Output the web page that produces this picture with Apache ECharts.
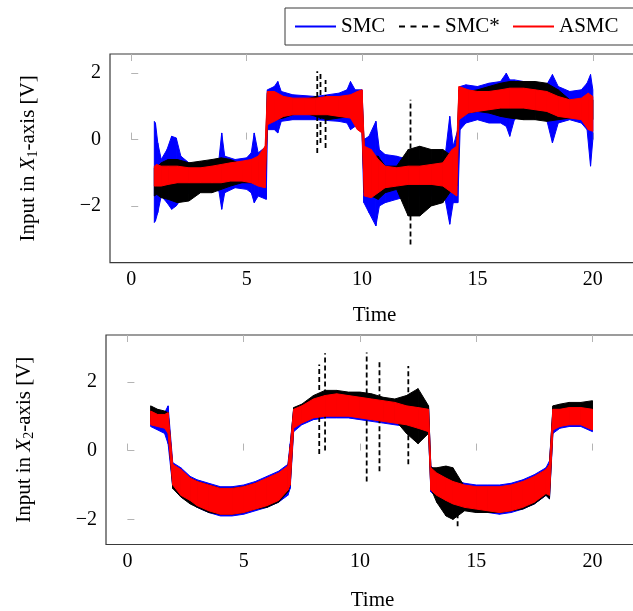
<!DOCTYPE html>
<html>
<head>
<meta charset="utf-8">
<script src="https://cdn.jsdelivr.net/npm/echarts@6/dist/echarts.min.js"></script>
<style>
html,body{margin:0;padding:0;background:#fff;}
#chart{width:633px;height:611px;}
</style>
</head>
<body>
<div id="chart"></div>
<script>
// ---------- data ----------
const seriesNames = ['SMC', 'SMC*', 'ASMC'];
const xTicks = [0, 5, 10, 15, 20];
const yTicks = [-2, 0, 2];

// Plot 1: input in X1-axis (noise envelopes: lower / upper)
const smc1T  = [1.0,1.05,1.15,1.3,1.55, 1.75,1.95,2.15,2.5,3.0, 3.5,3.8,3.92,4.05,4.5, 5.0,5.2,5.33,5.5,5.85, 5.9,6.2,6.35,6.5,7.0, 8.0,9.0,9.35,9.5,9.7, 10.0,10.08,10.3,10.6,10.75, 11.0,11.5,12.0,13.0,13.6, 13.8,13.95,14.15,14.25,14.5, 15.0,15.5,16.0,16.25,16.4, 16.6,17.0,17.5,18.0,18.25, 18.5,19.0,19.5,19.75,19.9, 20.0];
const smc1Lo = [-2.5,-2.45,-2.2,-1.7,-1.9, -2.1,-2.0,-1.8,-1.6,-1.55, -1.5,-1.55,-2.1,-1.6,-1.45, -1.5,-1.6,-1.9,-1.7,-1.8, 0.3,0.3,0.2,0.55,0.6, 0.6,0.55,0.5,0.3,0.4, 0.2,-1.9,-2.2,-2.6,-2.0, -1.9,-1.8,-1.7,-1.7,-1.8, -2.55,-1.9,-1.9,0.3,0.5, 0.6,0.5,0.5,0.4,0.1, 0.6,0.8,0.75,0.6,-0.1, 0.5,0.6,0.5,0.3,-0.8, 0.0];
const smc1Hi = [0.55,0.5,-0.1,-0.6,-0.3, 0.1,0.05,-0.5,-0.7,-0.8, -0.7,-0.6,0.2,-0.5,-0.6, -0.55,-0.4,0.2,-0.4,-0.2, 1.5,1.6,1.75,1.45,1.35, 1.3,1.4,1.5,1.75,1.5, 1.5,0.0,0.1,0.55,-0.3, -0.45,-0.5,-0.6,-0.6,-0.5, 0.7,-0.2,0.3,1.6,1.65, 1.6,1.7,1.75,2.0,1.8, 1.8,1.75,1.7,1.65,1.96, 1.6,1.45,1.5,1.7,1.96, 1.5];
const t1 = [1.0,1.1,1.3,1.6,2.0, 2.5,3.0,3.5,3.9,4.3, 4.8,5.2,5.5,5.8,5.9, 6.2,6.6,7.0,7.5,8.0, 8.5,9.0,9.5,9.8,10.0, 10.1,10.4,10.7,11.0,11.5, 12.0,12.5,13.0,13.5,13.9, 14.1,14.2,14.6,15.0,15.5, 16.0,16.4,17.0,17.5,18.0, 18.5,19.0,19.5,19.8,20.0];
const star1Lo = [-1.7,-1.65,-1.75,-1.8,-1.9, -1.85,-1.6,-1.6,-1.5,-1.4, -1.3,-1.3,-1.3,-1.3,0.5, 0.6,0.65,0.75,0.8,0.7, 0.6,0.65,0.7,0.5,0.3, -1.6,-1.7,-1.8,-1.6,-1.5, -2.3,-2.3,-2.0,-1.9,-1.5, -1.4,0.7,0.8,0.85,0.8, 0.7,0.65,0.6,0.6,0.55, 0.6,0.65,0.7,0.6,0.6];
const star1Hi = [-0.85,-0.85,-0.7,-0.6,-0.6, -0.7,-0.65,-0.6,-0.55,-0.6, -0.75,-0.8,-0.7,-0.5,1.4, 1.3,1.25,1.2,1.2,1.3, 1.2,1.2,1.2,1.3,1.3, -0.3,-0.5,-0.5,-0.8,-0.8, -0.3,-0.2,-0.3,-0.3,-0.5, -0.4,1.5,1.45,1.5,1.6, 1.7,1.75,1.75,1.75,1.7, 1.5,1.2,1.1,1.2,1.2];
const asmc1Lo = [-1.4,-1.4,-1.4,-1.35,-1.3, -1.3,-1.3,-1.3,-1.3,-1.25, -1.25,-1.3,-1.4,-1.45,0.45, 0.55,0.7,0.75,0.75,0.75, 0.75,0.7,0.65,0.3,0.2, -1.7,-1.75,-1.6,-1.45,-1.4, -1.35,-1.35,-1.35,-1.4,-1.6, -1.7,0.6,0.8,0.85,0.9, 0.95,0.95,0.95,0.9,0.85, 0.7,0.65,0.6,0.3,0.25];
const asmc1Hi = [-0.8,-0.75,-0.8,-0.8,-0.8, -0.85,-0.85,-0.8,-0.75,-0.7, -0.65,-0.6,-0.5,-0.2,1.45, 1.45,1.3,1.25,1.25,1.25, 1.3,1.3,1.35,1.45,1.5, -0.2,-0.3,-0.6,-0.8,-0.85, -0.8,-0.8,-0.75,-0.7,-0.3, -0.2,1.6,1.5,1.45,1.45, 1.5,1.55,1.55,1.5,1.45, 1.3,1.2,1.25,1.4,1.3];
const spike1T  = [8.06, 8.2, 8.42, 12.1];
const spike1Lo = [-0.4, -0.1, -0.25, -3.16];
const spike1Hi = [2.06, 2.0, 1.8, 1.2];

// Plot 2: input in X2-axis
const t2 = [1.0,1.3,1.6,1.75,1.95, 2.3,2.7,3.0,3.5,4.0, 4.5,5.0,5.5,6.0,6.5, 6.9,7.0,7.15,7.5,8.0, 8.5,9.0,9.5,10.0,10.5, 11.0,11.5,12.0,12.5,12.95, 13.05,13.3,13.7,14.0,14.5, 15.0,15.5,16.0,16.5,17.0, 17.5,18.0,18.15,18.3,18.6, 19.0,19.5,20.0];
const smc2Lo = [0.7,0.6,0.5,0.2,-1.05, -1.35,-1.5,-1.65,-1.8,-1.9, -1.9,-1.85,-1.75,-1.65,-1.5, -1.3,-1.1,0.55,0.75,0.9, 0.95,0.95,0.95,0.9,0.85, 0.8,0.75,0.7,0.6,0.5, -1.2,-1.35,-1.5,-1.6,-1.7, -1.75,-1.8,-1.85,-1.8,-1.7, -1.55,-1.3,-1.4,0.5,0.65, 0.7,0.7,0.55];
const smc2Hi = [1.15,1.05,1.1,1.3,-0.35, -0.5,-0.75,-0.85,-0.95,-1.05, -1.05,-1.0,-0.9,-0.75,-0.6, -0.4,0.2,1.2,1.3,1.5, 1.6,1.65,1.6,1.55,1.5, 1.45,1.4,1.3,1.25,1.25, -0.45,-0.6,-0.75,-0.85,-0.95, -1.0,-1.0,-1.0,-0.95,-0.85, -0.7,-0.5,-0.3,1.2,1.2, 1.25,1.25,1.2];
const star2Lo = [0.85,0.8,0.75,0.6,-1.1, -1.35,-1.55,-1.65,-1.8,-1.85, -1.85,-1.8,-1.7,-1.65,-1.5, -1.2,-1.0,0.7,0.85,1.0, 1.1,1.15,1.15,1.1,1.0, 0.95,0.9,0.5,0.2,0.5, -1.1,-1.5,-1.9,-2.0,-1.75, -1.8,-1.8,-1.8,-1.75,-1.7, -1.55,-1.3,-1.4,0.65,0.75, 0.8,0.8,0.75];
const star2Hi = [1.3,1.2,1.15,1.1,-0.5, -0.65,-0.8,-0.9,-1.0,-1.1, -1.1,-1.05,-0.95,-0.85,-0.7, -0.5,0.1,1.25,1.35,1.6, 1.75,1.75,1.7,1.7,1.65, 1.55,1.5,1.6,1.8,1.3, -0.5,-0.5,-0.45,-0.5,-1.05, -1.1,-1.1,-1.1,-1.05,-0.95, -0.8,-0.55,-0.4,1.3,1.35, 1.4,1.4,1.45];
const asmc2Lo = [0.75,0.7,0.65,0.5,-1.0, -1.3,-1.45,-1.6,-1.75,-1.85, -1.85,-1.8,-1.7,-1.6,-1.45, -1.15,-1.0,0.65,0.8,0.95, 1.0,1.0,1.0,0.95,0.9, 0.85,0.8,0.75,0.65,0.55, -1.15,-1.3,-1.45,-1.55,-1.65, -1.7,-1.75,-1.8,-1.75,-1.65, -1.5,-1.25,-1.3,0.6,0.7, 0.75,0.75,0.6];
const asmc2Hi = [1.15,1.05,1.05,1.1,-0.4, -0.55,-0.8,-0.9,-1.0,-1.1, -1.1,-1.05,-0.95,-0.8,-0.65, -0.45,0.1,1.2,1.3,1.5, 1.6,1.65,1.6,1.55,1.5, 1.45,1.4,1.3,1.25,1.2, -0.5,-0.65,-0.8,-0.9,-1.0, -1.05,-1.05,-1.05,-1.0,-0.9, -0.75,-0.55,-0.4,1.2,1.2, 1.25,1.25,1.2];
const spike2T  = [8.25, 8.5, 10.29, 10.84, 12.08, 14.2];
const spike2Lo = [-0.1, 0.0, -0.9, -0.6, -0.4, -2.2];
const spike2Hi = [2.5, 2.83, 2.85, 2.6, 2.46, -1.4];

// ---------- styling ----------
const FONT = "'Liberation Serif', 'Times New Roman', serif";
const COLORS = {'SMC': '#0000ff', 'SMC*': '#000000', 'ASMC': '#ff0000'};
const FRAME = '#3a3a3a';
const TICK = '#b4b4b4';

function quads(t, lo, hi) {
  const out = [];
  for (let i = 0; i < t.length - 1; i++) out.push([t[i], lo[i], hi[i], t[i + 1], lo[i + 1], hi[i + 1]]);
  return out;
}
function bandSeries(name, g, t, lo, hi, z) {
  const color = COLORS[name];
  return {
    name, type: 'custom', xAxisIndex: g * 2, yAxisIndex: g, clip: true, z,
    itemStyle: { color }, encode: { x: [0, 3], y: [1, 2, 4, 5] },
    data: quads(t, lo, hi),
    renderItem: function (params, api) {
      const a = api.coord([api.value(0), api.value(1)]);
      const b = api.coord([api.value(0), api.value(2)]);
      const c = api.coord([api.value(3), api.value(5)]);
      const d = api.coord([api.value(3), api.value(4)]);
      return { type: 'polygon', shape: { points: [a, b, c, d] }, style: { fill: color, stroke: color, lineWidth: 1 } };
    }
  };
}
function spikeSeries(g, t, lo, hi) {
  return {
    name: 'SMC*', type: 'custom', xAxisIndex: g * 2, yAxisIndex: g, clip: true, z: 3,
    encode: { x: 0, y: [1, 2] },
    data: t.map((v, i) => [v, lo[i], hi[i]]),
    renderItem: function (params, api) {
      const a = api.coord([api.value(0), api.value(1)]);
      const b = api.coord([api.value(0), api.value(2)]);
      return { type: 'line', shape: { x1: a[0], y1: a[1], x2: b[0], y2: b[1] }, style: { stroke: '#000', lineWidth: 1.8, lineDash: [5, 3] } };
    }
  };
}
const minusFmt = v => (v < 0 ? '\u2212' + Math.abs(v) : String(v));

function xAxes(g) {
  const common = { gridIndex: g, type: 'value', min: -0.92, max: 22, splitLine: { show: false }, axisLine: { show: false } };
  return [
    Object.assign({}, common, {
      position: 'bottom',
      axisTick: { inside: true, length: 7, customValues: xTicks, lineStyle: { color: TICK, width: 1 } },
      axisLabel: { customValues: xTicks, margin: 7, fontSize: 20, color: '#000', fontFamily: FONT },
      name: 'Time', nameLocation: 'middle', nameGap: g === 0 ? 42 : 45,
      nameTextStyle: { fontSize: 21, color: '#000', fontFamily: FONT }
    }),
    Object.assign({}, common, {
      position: 'top',
      axisTick: { inside: true, length: 7, customValues: xTicks, lineStyle: { color: TICK, width: 1 } },
      axisLabel: { show: false }
    })
  ];
}
function yAxis(g, min, max, sub) {
  return {
    gridIndex: g, type: 'value', min, max, splitLine: { show: false }, axisLine: { show: false },
    axisTick: { inside: true, length: 7, customValues: yTicks, lineStyle: { color: TICK, width: 1 } },
    axisLabel: { customValues: yTicks, margin: 9, fontSize: 20, color: '#000', fontFamily: FONT, formatter: minusFmt },
    name: '{r|Input in }{i|X}{s|' + sub + '}{r|-axis [V]}',
    nameLocation: 'middle', nameGap: 70, nameRotate: 90,
    nameTextStyle: {
      color: '#000', fontFamily: FONT, fontSize: 21,
      rich: {
        r: { fontSize: 21, fontFamily: FONT, color: '#000', lineHeight: 24 },
        i: { fontSize: 21, fontFamily: FONT, fontStyle: 'italic', color: '#000', lineHeight: 24 },
        s: { fontSize: 14, fontFamily: FONT, color: '#000', lineHeight: 12, verticalAlign: 'bottom' }
      }
    }
  };
}

const legendKey = { 'SMC': 'w1', 'SMC*': 'w2', 'ASMC': 'w3' };
const legendRich = {
  w1: { width: 50, fontSize: 21, fontFamily: FONT, color: '#000', lineHeight: 22 },
  w2: { width: 60, fontSize: 21, fontFamily: FONT, color: '#000', lineHeight: 22 },
  w3: { width: 67, fontSize: 21, fontFamily: FONT, color: '#000', lineHeight: 22 }
};

const option = {
  animation: false,
  backgroundColor: '#fff',
  textStyle: { fontFamily: FONT },
  legend: {
    data: seriesNames, left: 285, top: 8, width: 340, orient: 'horizontal',
    padding: [8, 10, 8, 9], itemGap: 7, itemWidth: 41, itemHeight: 14,
    borderColor: FRAME, borderWidth: 1, borderRadius: 0,
    itemStyle: { opacity: 0 },
    formatter: n => '{' + legendKey[n] + '|' + n + '}',
    textStyle: { fontSize: 21, fontFamily: FONT, color: '#000', rich: legendRich }
  },
  grid: [
    { left: 110, top: 54, width: 529, height: 208.7, show: true, borderColor: FRAME, borderWidth: 1.2, backgroundColor: 'transparent', outerBoundsMode: 'none', containLabel: false },
    { left: 106, top: 335, width: 533, height: 209.5, show: true, borderColor: FRAME, borderWidth: 1.2, backgroundColor: 'transparent', outerBoundsMode: 'none', containLabel: false }
  ],
  xAxis: xAxes(0).concat(xAxes(1)),
  yAxis: [yAxis(0, -3.71, 2.58, '1'), yAxis(1, -2.73, 3.36, '2')],
  series: [
    { name: 'SMC', type: 'line', data: [], symbol: 'none', xAxisIndex: 0, yAxisIndex: 0, lineStyle: { color: COLORS['SMC'], width: 1.6 }, itemStyle: { color: COLORS['SMC'] } },
    { name: 'SMC*', type: 'line', data: [], symbol: 'none', xAxisIndex: 0, yAxisIndex: 0, lineStyle: { color: '#000', width: 1.8, type: [6, 5.5] }, itemStyle: { color: '#000' } },
    { name: 'ASMC', type: 'line', data: [], symbol: 'none', xAxisIndex: 0, yAxisIndex: 0, lineStyle: { color: COLORS['ASMC'], width: 1.6 }, itemStyle: { color: COLORS['ASMC'] } },
    bandSeries('SMC', 0, smc1T, smc1Lo, smc1Hi, 1),
    bandSeries('SMC*', 0, t1, star1Lo, star1Hi, 2),
    spikeSeries(0, spike1T, spike1Lo, spike1Hi),
    bandSeries('ASMC', 0, t1, asmc1Lo, asmc1Hi, 4),
    bandSeries('SMC', 1, t2, smc2Lo, smc2Hi, 1),
    bandSeries('SMC*', 1, t2, star2Lo, star2Hi, 2),
    spikeSeries(1, spike2T, spike2Lo, spike2Hi),
    bandSeries('ASMC', 1, t2, asmc2Lo, asmc2Hi, 4)
  ]
};
const chart = echarts.init(document.getElementById('chart'), null, { renderer: 'canvas' });
chart.setOption(option);
</script>
</body>
</html>
